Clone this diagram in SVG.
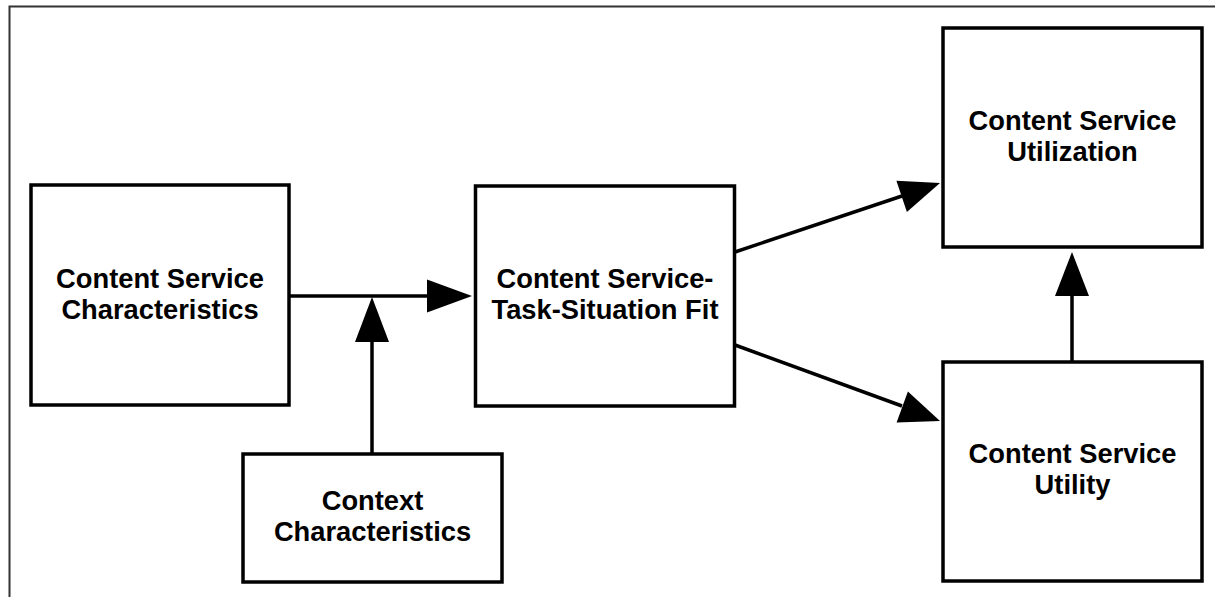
<svg xmlns="http://www.w3.org/2000/svg" width="1215" height="597" viewBox="0 0 1215 597">
  <style>
    .box { fill: #ffffff; stroke: #000000; stroke-width: 3.5; }
    .lbl { font-family: "Liberation Sans", Arial, sans-serif; font-weight: bold; font-size: 27.3px; fill: #000000; text-anchor: middle; }
    .conn { stroke: #000000; stroke-width: 3.5; fill: none; }
    .head { fill: #000000; stroke: none; }
  </style>
  <rect x="0" y="0" width="1215" height="597" fill="#ffffff"/>
  <path d="M9.5 600 V6.5 H1220" fill="none" stroke="#333333" stroke-width="2"/>

  <g id="connectors">
    <line class="conn" x1="289" y1="296" x2="430" y2="296"/>
    <polygon class="head" points="472,296 427,279.5 427,312.5"/>
    <line class="conn" x1="372" y1="454" x2="372" y2="338"/>
    <polygon class="head" points="372,297 355,342 389,342"/>
    <line class="conn" x1="735" y1="252" x2="902" y2="196"/>
    <polygon class="head" points="940,183 896.4,180.7 906.9,212.0"/>
    <line class="conn" x1="735" y1="345" x2="902" y2="406"/>
    <polygon class="head" points="940,421 907.9,391.4 896.6,422.4"/>
    <line class="conn" x1="1072" y1="362" x2="1072" y2="292"/>
    <polygon class="head" points="1072,252 1055,296 1089,296"/>
  </g>

  <g id="node-csc">
    <rect class="box" x="31" y="185" width="258" height="220"/>
    <text class="lbl" x="160" y="288">Content Service</text>
    <text class="lbl" x="160" y="319">Characteristics</text>
  </g>
  <g id="node-context">
    <rect class="box" x="243" y="454" width="259" height="128"/>
    <text class="lbl" x="372.5" y="510">Context</text>
    <text class="lbl" x="372.5" y="541">Characteristics</text>
  </g>
  <g id="node-fit">
    <rect class="box" x="475.5" y="186" width="259" height="220"/>
    <text class="lbl" x="605" y="288">Content Service-</text>
    <text class="lbl" x="605" y="319">Task-Situation Fit</text>
  </g>
  <g id="node-utilization">
    <rect class="box" x="943" y="28" width="259" height="219"/>
    <text class="lbl" x="1072.5" y="130">Content Service</text>
    <text class="lbl" x="1072.5" y="161">Utilization</text>
  </g>
  <g id="node-utility">
    <rect class="box" x="943" y="362" width="259" height="219"/>
    <text class="lbl" x="1072.5" y="463">Content Service</text>
    <text class="lbl" x="1072.5" y="494">Utility</text>
  </g>
</svg>
